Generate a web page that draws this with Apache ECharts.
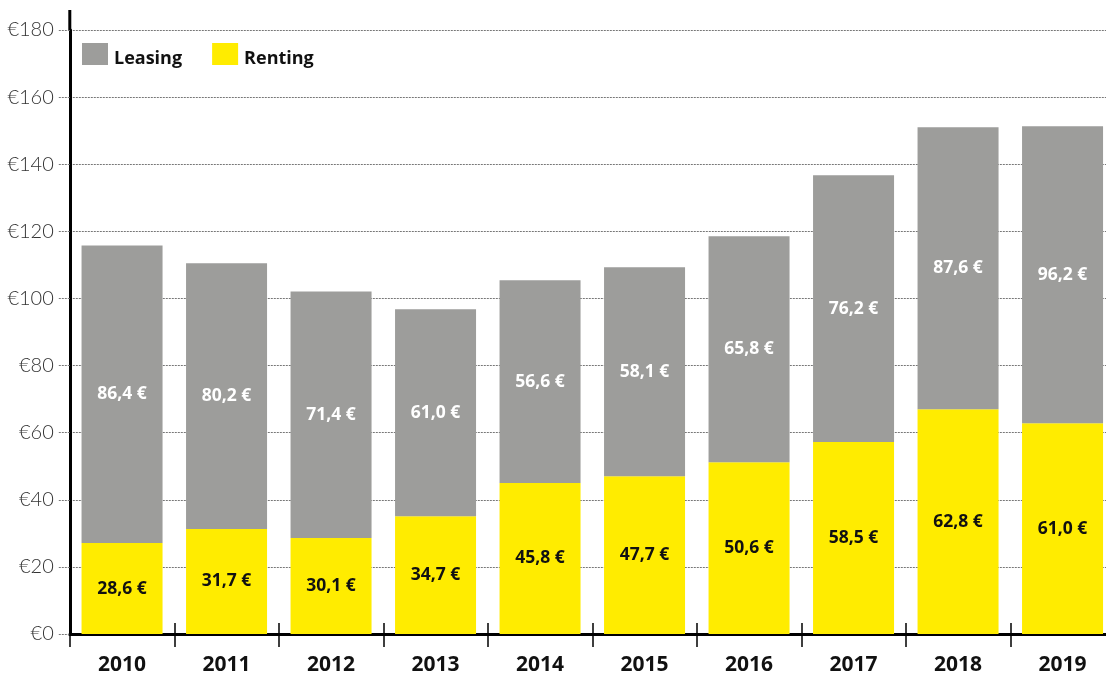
<!DOCTYPE html>
<html>
<head>
<meta charset="utf-8">
<script src="https://cdn.jsdelivr.net/npm/echarts@6/dist/echarts.min.js"></script>
<style>
html,body{margin:0;padding:0;background:#fff;}
#main{width:1106px;height:673px;}
</style>
</head>
<body>
<div id="main"></div>
<script>
// categories and values (bar heights)
let years = ['2010', '2011', '2012', '2013', '2014', '2015', '2016', '2017', '2018', '2019'];
let rentingValues = [27.1, 31.3, 28.6, 35.1, 45.0, 47.0, 51.2, 57.2, 67.0, 62.8];
let leasingValues = [88.7, 79.2, 73.5, 61.7, 60.4, 62.3, 67.3, 79.5, 84.0, 88.5];
// printed labels
let rentingLabels = ['28,6 €', '31,7 €', '30,1 €', '34,7 €', '45,8 €', '47,7 €', '50,6 €', '58,5 €', '62,8 €', '61,0 €'];
let leasingLabels = ['86,4 €', '80,2 €', '71,4 €', '61,0 €', '56,6 €', '58,1 €', '65,8 €', '76,2 €', '87,6 €', '96,2 €'];
let yTicks = [0, 180, 20];

let chart = echarts.init(document.getElementById('main'), null, {renderer: 'canvas'});

let gridLeft = 69.8, gridTop = 30;

let option = {
    animation: false,
    backgroundColor: '#fff',
    grid: {left: gridLeft, top: gridTop, width: 1045, height: 604, containLabel: false, outerBoundsMode: 'none'},
    legend: {
        data: ['Leasing', 'Renting'],
        left: 82,
        top: 43,
        padding: 0,
        icon: 'rect',
        itemWidth: 26,
        itemHeight: 22,
        itemGap: 30,
        formatter: '{t|{name}}',
        textStyle: {
            fontFamily: 'Open Sans', fontWeight: 'bold', fontSize: 18, color: '#111',
            rich: {t: {fontFamily: 'Open Sans', fontWeight: 'bold', fontSize: 18, color: '#111', padding: [9, 0, 0, 1]}}
        }
    },
    //y 轴
    yAxis: {
        type: 'value',
        min: yTicks[0],
        max: yTicks[1],
        interval: yTicks[2],
        axisLine: {show: true, lineStyle: {color: '#000', width: 3}},
        axisTick: {show: true, length: 11, lineStyle: {color: '#777', type: [2, 1], width: 1}},
        splitLine: {show: true, lineStyle: {color: '#777', type: [2, 1], width: 1}},
        axisLabel: {
            formatter: '€{value}',
            margin: 16,
            color: '#333',
            fontFamily: 'Lato',
            fontWeight: 300,
            fontSize: 20
        }
    },
    xAxis: [{
        type: 'category',
        data: years,
        position: 'bottom',
        axisLine: {show: true, lineStyle: {color: '#000', width: 3}},
        axisTick: {show: true, length: 13, lineStyle: {color: '#000', width: 1.5}},
        axisLabel: {margin: 21, color: '#111', fontFamily: 'Open Sans', fontWeight: 'bold', fontSize: 21}
    }, {
        type: 'category',
        data: years,
        position: 'bottom',
        axisLine: {show: false},
        axisTick: {show: true, inside: true, length: 11, lineStyle: {color: '#000', width: 1.5}},
        axisLabel: {show: false},
        splitLine: {show: false}
    }],
    series: [{
        name: 'Renting',
        type: 'bar',
        stack: 'total',
        barWidth: 81,
        data: rentingValues,
        itemStyle: {color: '#ffec00'},
        label: {
            show: true,
            position: 'inside',
            formatter: function (p) { return rentingLabels[p.dataIndex]; },
            color: '#111',
            fontFamily: 'Open Sans',
            fontWeight: 'bold',
            fontSize: 17.5
        }
    }, {
        name: 'Leasing',
        type: 'bar',
        stack: 'total',
        barWidth: 81,
        data: leasingValues,
        itemStyle: {color: '#9d9d9b'},
        label: {
            show: true,
            position: 'inside',
            formatter: function (p) { return leasingLabels[p.dataIndex]; },
            color: '#fff',
            fontFamily: 'Open Sans',
            fontWeight: 'bold',
            fontSize: 17.5
        }
    }],
    //y 轴顶端延长
    graphic: [{
        type: 'line',
        shape: {x1: gridLeft, y1: 10, x2: gridLeft, y2: gridTop},
        style: {stroke: '#000', lineWidth: 3}
    }]
};

chart.setOption(option);
</script>
</body>
</html>
